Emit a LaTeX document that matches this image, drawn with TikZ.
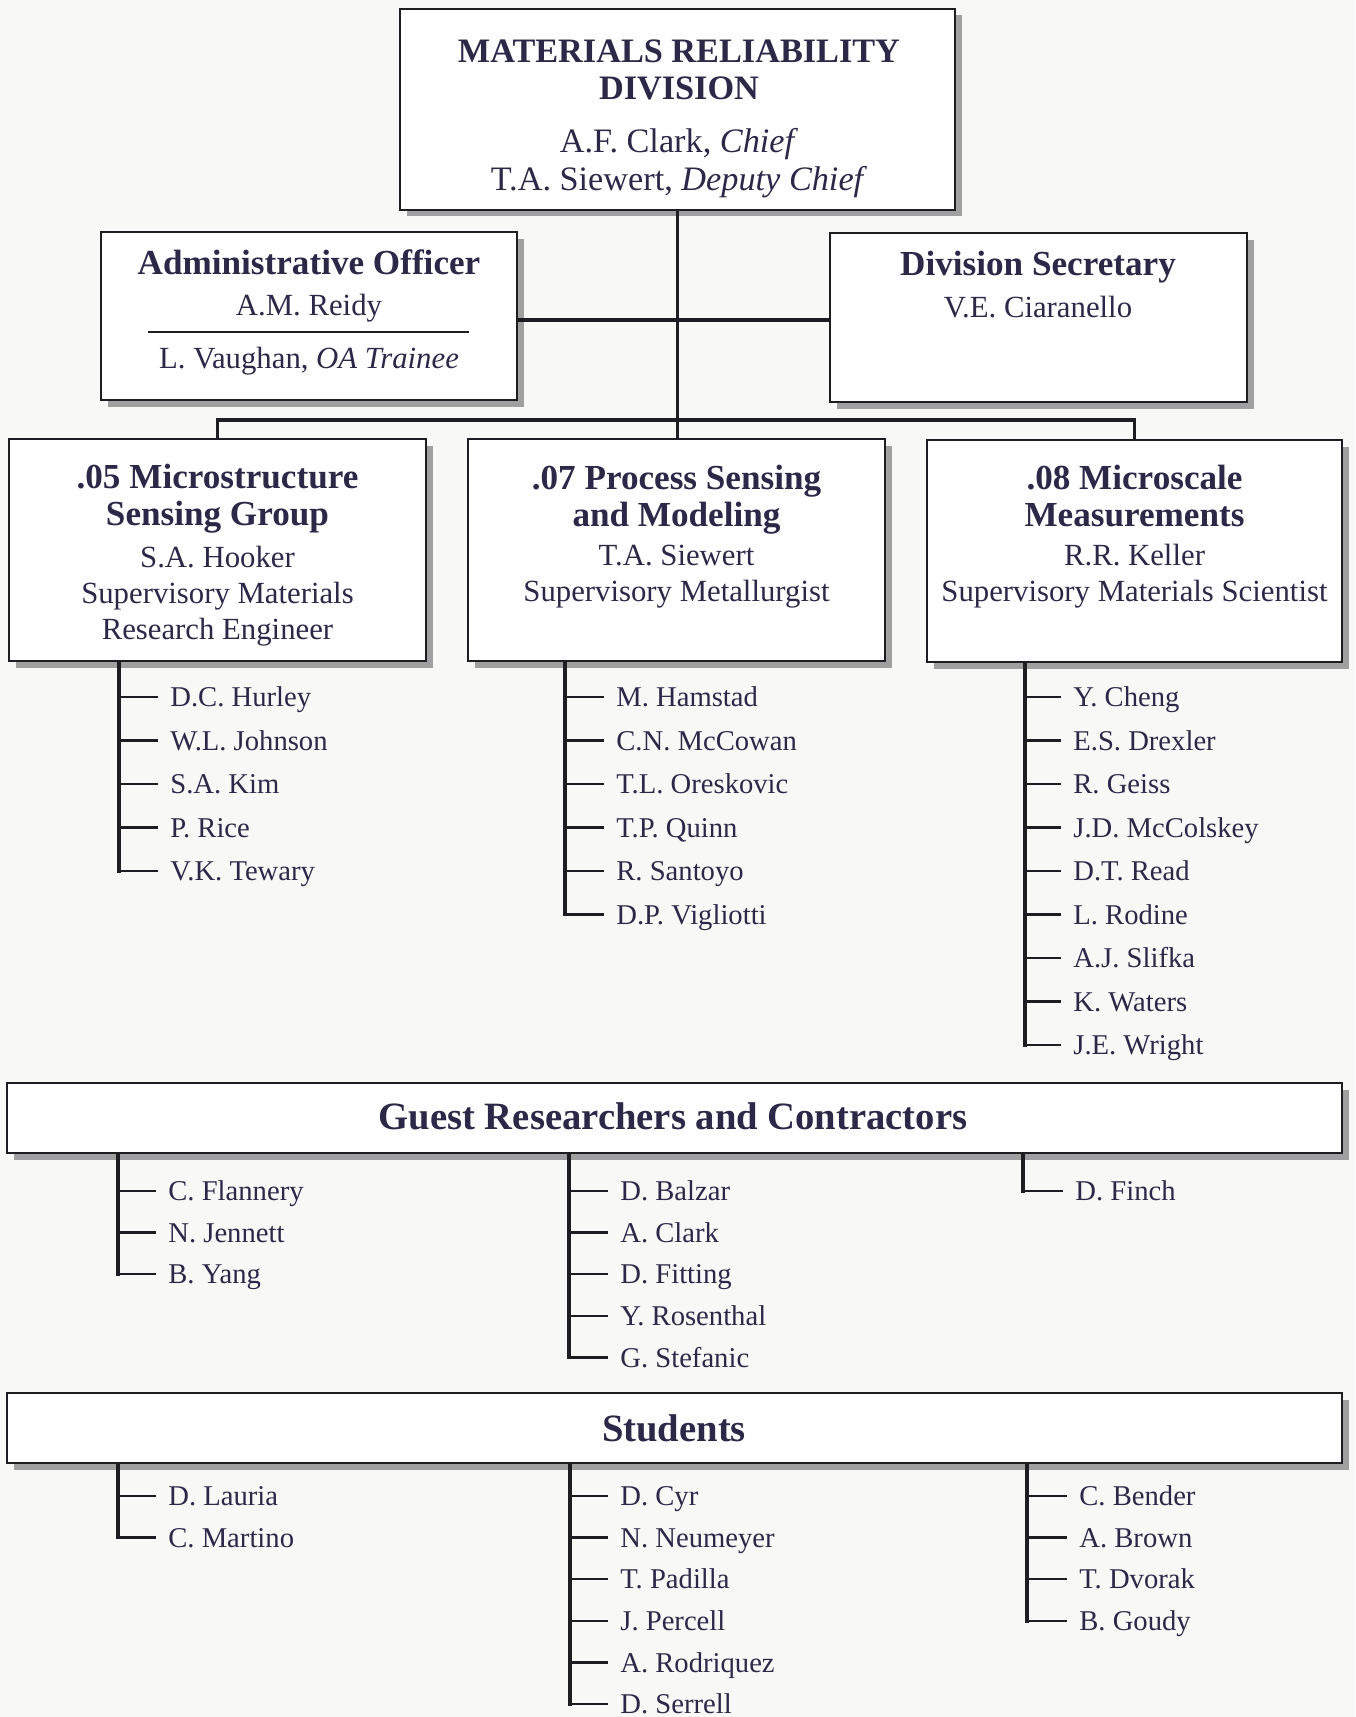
\documentclass[tikz,border=0pt]{standalone}
\usepackage{fontspec}
\setmainfont{Liberation Serif}
\usetikzlibrary{fit, shadows}
\definecolor{ink}{RGB}{30,30,34}
\definecolor{navy}{RGB}{44,40,72}
\definecolor{paper}{RGB}{248,248,246}
\definecolor{shade}{RGB}{160,160,160}

\tikzset{
  orgbox/.style={draw=ink, line width=1.5pt, fill=white, inner sep=0pt,
    drop shadow={shadow xshift=1.3mm, shadow yshift=-1.3mm, fill=shade, opacity=1}},
  % multi-line text sits on the baseline of its last line
  head/.style={text=navy, align=center, anchor=base, inner sep=0pt,
    font=\fontsize{20}{21}\selectfont\bfseries},
  who/.style={text=navy, align=center, anchor=base, inner sep=0pt,
    font=\fontsize{17.5}{20.4}\selectfont},
  member/.style={text=navy, anchor=west, inner sep=0pt, text height=3.9mm, text depth=0mm,
    font=\fontsize{16.3}{18}\selectfont},
  link/.style={draw=ink, line width=2.2pt},
  trunk/.style={draw=ink, line width=2pt, line cap=rect},
  twig/.style={draw=ink, line width=1.3pt},
}

\begin{document}
\begin{tikzpicture}[x=0.2mm, y=-0.2mm]
  \fill[paper] (0,0) rectangle (1355,1717);
  \useasboundingbox (0,0) rectangle (1355,1717);

  % division office
  \node[orgbox, fit={(400,9) (955,210)}] (div) {};
  \node[head, font=\fontsize{19.5}{21.5}\selectfont\bfseries] (divhead) at (679,100)
    {MATERIALS RELIABILITY\\DIVISION};
  \node[who, font=\fontsize{19.5}{22}\selectfont] (divwho) at (679,191)
    {A.F. Clark, \textit{Chief}\\T.A. Siewert, \textit{Deputy Chief}};

  % staff offices
  \node[orgbox, fit={(101,232) (517,400)}] (adm) {};
  \node[head] (admhead) at (309,274) {Administrative Officer};
  \node[who] (admwho) at (309,315) {A.M. Reidy};
  \draw[ink, line width=0.8pt] (148,332) -- (469,332);
  \node[who] (trainee) at (309,368) {L. Vaughan, \textit{OA Trainee}};

  \node[orgbox, fit={(830,233) (1247,402)}] (sec) {};
  \node[head] (sechead) at (1038,275) {Division Secretary};
  \node[who] (secwho) at (1038,317) {V.E. Ciaranello};

  % groups
  \node[orgbox, fit={(9,439) (426,661)}] (g05) {};
  \node[orgbox, fit={(468,439) (885,661)}] (g07) {};
  \node[orgbox, fit={(927,440) (1342,662)}] (g08) {};
  \node[head] (g05head) at (g05.center |- 0,525) {.05 Microstructure\\Sensing Group};
  \node[who] (g05who) at (g05.center |- 0,639) {S.A. Hooker\\Supervisory Materials\\Research Engineer};
  \node[head] (g07head) at (g07.center |- 0,526) {.07 Process Sensing\\and Modeling};
  \node[who] (g07who) at (g07.center |- 0,601) {T.A. Siewert\\Supervisory Metallurgist};
  \node[head] (g08head) at (g08.center |- 0,526) {.08 Microscale\\Measurements};
  \node[who] (g08who) at (g08.center |- 0,601) {R.R. Keller\\Supervisory Materials Scientist};

  % lines of authority
  \coordinate (bus) at (div.south |- 0,420);
  \draw[link] (div.south) -- (div.south |- g07.north);
  \draw[link] (adm.east |- 0,320) -- (sec.west |- 0,320);
  \draw[link] (g05.north) |- (bus) -| (g08.north);

  % group staff
  \coordinate (t05) at (g05.south -| 119,0);
  \foreach \person [count=\i from 0] in {D.C. Hurley, W.L. Johnson, S.A. Kim, P. Rice, V.K. Tewary}
    \node[member] (m05-\i) at (170,697+43.5*\i) {\person};
  \draw[trunk] (t05) -- (t05 |- m05-4.west);
  \foreach \i in {0,...,4}
    \draw[twig] (t05 |- m05-\i.west) -- ([xshift=-2.4mm]m05-\i.west);

  \coordinate (t07) at (g07.south -| 565,0);
  \foreach \person [count=\i from 0] in {M. Hamstad, C.N. McCowan, T.L. Oreskovic, T.P. Quinn, R. Santoyo, D.P. Vigliotti}
    \node[member] (m07-\i) at (616,697+43.5*\i) {\person};
  \draw[trunk] (t07) -- (t07 |- m07-5.west);
  \foreach \i in {0,...,5}
    \draw[twig] (t07 |- m07-\i.west) -- ([xshift=-2.4mm]m07-\i.west);

  \coordinate (t08) at (g08.south -| 1025,0);
  \foreach \person [count=\i from 0] in {Y. Cheng, E.S. Drexler, R. Geiss, J.D. McColskey, D.T. Read, L. Rodine, A.J. Slifka, K. Waters, J.E. Wright}
    \node[member] (m08-\i) at (1073,697+43.5*\i) {\person};
  \draw[trunk] (t08) -- (t08 |- m08-8.west);
  \foreach \i in {0,...,8}
    \draw[twig] (t08 |- m08-\i.west) -- ([xshift=-2.4mm]m08-\i.west);

  % guest researchers
  \node[orgbox, fit={(7,1083) (1342,1153)}] (guest) {};
  \node[head, font=\fontsize{22}{24}\selectfont\bfseries] (guesthead) at (673,1129)
    {Guest Researchers and Contractors};

  \coordinate (ga) at (guest.south -| 118,0);
  \foreach \person [count=\i from 0] in {C. Flannery, N. Jennett, B. Yang}
    \node[member] (ga-\i) at (168,1191+41.6*\i) {\person};
  \draw[trunk] (ga) -- (ga |- ga-2.west);
  \foreach \i in {0,...,2}
    \draw[twig] (ga |- ga-\i.west) -- ([xshift=-2.4mm]ga-\i.west);

  \coordinate (gb) at (guest.south -| 569,0);
  \foreach \person [count=\i from 0] in {D. Balzar, A. Clark, D. Fitting, Y. Rosenthal, G. Stefanic}
    \node[member] (gb-\i) at (620,1191+41.6*\i) {\person};
  \draw[trunk] (gb) -- (gb |- gb-4.west);
  \foreach \i in {0,...,4}
    \draw[twig] (gb |- gb-\i.west) -- ([xshift=-2.4mm]gb-\i.west);

  \coordinate (gc) at (guest.south -| 1023,0);
  \node[member] (gc-0) at (1075,1191) {D. Finch};
  \draw[trunk] (gc) -- (gc |- gc-0.west);
  \draw[twig] (gc |- gc-0.west) -- ([xshift=-2.4mm]gc-0.west);

  % students
  \node[orgbox, fit={(7,1393) (1342,1463)}] (stud) {};
  \node[head, font=\fontsize{22}{24}\selectfont\bfseries] (studhead) at (674,1441) {Students};

  \coordinate (sa) at (stud.south -| 118,0);
  \foreach \person [count=\i from 0] in {D. Lauria, C. Martino}
    \node[member] (sa-\i) at (168,1496+41.6*\i) {\person};
  \draw[trunk] (sa) -- (sa |- sa-1.west);
  \foreach \i in {0,1}
    \draw[twig] (sa |- sa-\i.west) -- ([xshift=-2.4mm]sa-\i.west);

  \coordinate (sb) at (stud.south -| 570,0);
  \foreach \person [count=\i from 0] in {D. Cyr, N. Neumeyer, T. Padilla, J. Percell, A. Rodriquez, D. Serrell}
    \node[member] (sb-\i) at (620,1496+41.6*\i) {\person};
  \draw[trunk] (sb) -- (sb |- sb-5.west);
  \foreach \i in {0,...,5}
    \draw[twig] (sb |- sb-\i.west) -- ([xshift=-2.4mm]sb-\i.west);

  \coordinate (sc) at (stud.south -| 1027,0);
  \foreach \person [count=\i from 0] in {C. Bender, A. Brown, T. Dvorak, B. Goudy}
    \node[member] (sc-\i) at (1079,1496+41.6*\i) {\person};
  \draw[trunk] (sc) -- (sc |- sc-3.west);
  \foreach \i in {0,...,3}
    \draw[twig] (sc |- sc-\i.west) -- ([xshift=-2.4mm]sc-\i.west);
\end{tikzpicture}
\end{document}
